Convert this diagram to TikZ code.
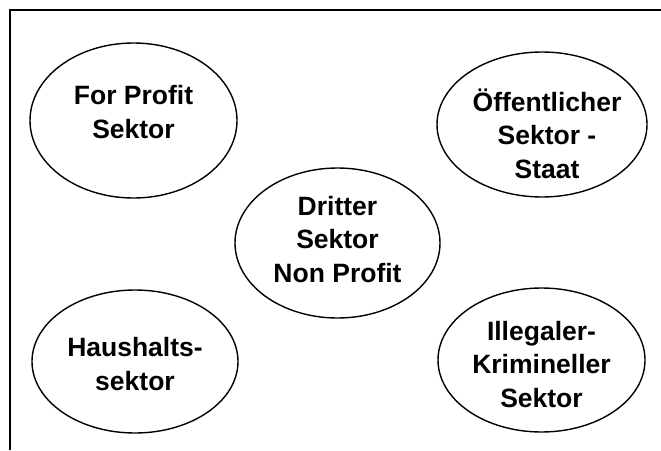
\documentclass[tikz,border=0pt]{standalone}
\usepackage{fontspec}
\setmainfont{Liberation Sans}
\usetikzlibrary{shapes.geometric}
\tikzset{
  every node/.style={font=\bfseries\fontsize{26.5}{33.5}\selectfont, text=black},
  sektor/.style={draw=black, line width=1.4pt, ellipse, inner sep=0pt, fill=white},
  lbl/.style={align=center, anchor=base, inner sep=0pt},
  frame/.style={draw=black, line width=2pt},
}
\begin{document}
\begin{tikzpicture}[x=1pt,y=-1pt]
\useasboundingbox (0,0) rectangle (661,450);
% open frame
\draw[frame] (10,450) -- (10,10) -- (661,10);
% sector ellipses
\node[sektor, minimum width=207, minimum height=155] (fp) at (133.5,120.5) {};
\node[sektor, minimum width=210, minimum height=145] (oe) at (542,124.5) {};
\node[sektor, minimum width=205, minimum height=150] (dr) at (337.5,243) {};
\node[sektor, minimum width=206, minimum height=143] (hh) at (135,361.5) {};
\node[sektor, minimum width=207, minimum height=144] (il) at (541.5,360) {};
% labels (anchored at the last baseline)
\node[lbl] (fpl) at (133.5,138) {For Profit\\Sektor};
\node[lbl] (oel) at (547,178) {Öffentlicher\\Sektor -\\Staat};
\node[lbl] (drl) at (337.5,282) {Dritter\\Sektor\\Non Profit};
\node[lbl] (hhl) at (135,390) {Haushalts-\\sektor};
\node[lbl] (ill) at (541.5,407) {Illegaler-\\Krimineller\\Sektor};
\end{tikzpicture}
\end{document}
